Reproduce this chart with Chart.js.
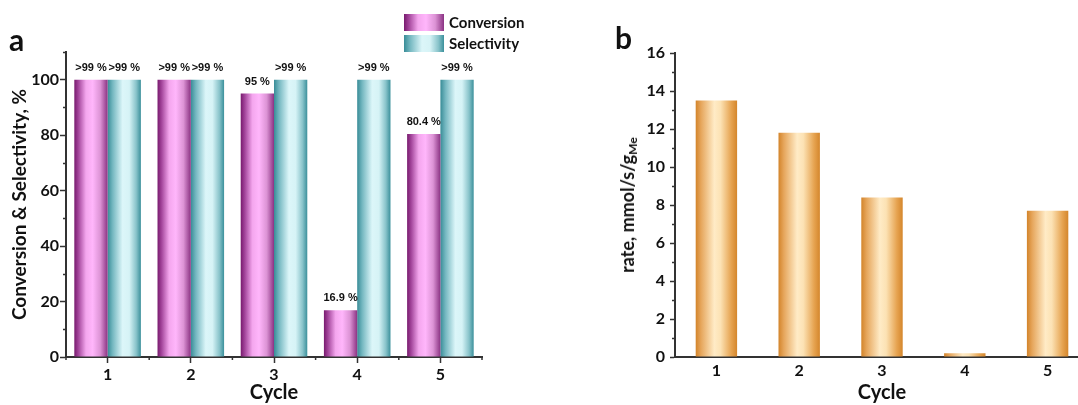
<!DOCTYPE html>
<html>
<head>
<meta charset="utf-8">
<script src="https://cdn.jsdelivr.net/npm/chart.js@4/dist/chart.umd.min.js"></script>
<style>
  html, body { margin: 0; padding: 0; background: #fff; width: 1078px; height: 405px; overflow: hidden; }
  #wrap { position: relative; width: 1078px; height: 405px; overflow: hidden; font-family: Lato, "Open Sans", sans-serif; color: #111; }
  canvas { position: absolute; top: 0; }
  #ca { left: 0; }
  #cb { left: 600px; }
  .tag { position: absolute; font-weight: bold; font-size: 30px; line-height: 1; }
  .leg { position: absolute; display: flex; align-items: center; font-weight: bold; font-size: 15px; }
  .sw { display: inline-block; width: 40px; margin-right: 5px; }
  #ytb { position: absolute; left: 628px; top: 205px; transform: translate(-50%, -50%) rotate(-90deg);
         white-space: nowrap; font-weight: bold; font-size: 18px; }
  #ytb sub { font-size: 12px; vertical-align: -3px; }
</style>
</head>
<body>
<div id="wrap">
  <canvas id="ca" width="540" height="405"></canvas>
  <canvas id="cb" width="500" height="405"></canvas>
  <div class="tag" style="left:9px;top:24px;">a</div>
  <div class="tag" style="left:615px;top:22px;">b</div>
  <div id="legend"></div>
  <div id="ytb">rate, mmol/s/g<sub>Me</sub></div>
</div>
<script>
// ---- data ----
const cycles = ['1', '2', '3', '4', '5'];
const conversion = [100, 100, 95, 16.9, 80.4];
const selectivity = [100, 100, 100, 100, 100];
const conversionLabels = ['>99 %', '>99 %', '95 %', '16.9 %', '80.4 %'];
const selectivityLabels = ['>99 %', '>99 %', '>99 %', '>99 %', '>99 %'];
const rate = [13.5, 11.8, 8.4, 0.2, 7.7];
const yTicksA = [0, 20, 40, 60, 80, 100];
const yMinorA = [10, 30, 50, 70, 90, 110];
const yTicksB = [0, 2, 4, 6, 8, 10, 12, 14, 16];
const yMinorB = [1, 3, 5, 7, 9, 11, 13, 15];

// ---- styling ----
const FONT = 'Lato, "Open Sans", sans-serif';
const AXIS = '#333333';
const TEXT = '#111111';
const convStops = [[0, '#781a6e'], [0.12, '#a2449a'], [0.35, '#f4a6ee'], [0.55, '#ffb6fb'], [0.78, '#dc93d5'], [1, '#8b3383']];
const selStops = [[0, '#388c97'], [0.15, '#74b7c0'], [0.45, '#dcf6f9'], [0.65, '#d6f3f6'], [0.86, '#88c3ca'], [1, '#3b909b']];
const rateStops = [[0, '#d3842a'], [0.13, '#e6a65c'], [0.45, '#ffebc6'], [0.6, '#fce2b4'], [0.86, '#e6a350'], [1, '#d4862c']];

function cssGradient(stops) {
  return 'linear-gradient(to right,' + stops.map(([o, c]) => c + ' ' + (o * 100) + '%').join(',') + ')';
}

// horizontal gradient spanning each bar
function barGradient(stops) {
  return (ctx) => {
    const el = ctx.element;
    if (ctx.type !== 'data' || !el || !Number.isFinite(el.x) || !Number.isFinite(el.width)) {
      return stops[2][1];
    }
    const l = el.x - el.width / 2, r = el.x + el.width / 2;
    const g = ctx.chart.ctx.createLinearGradient(l, 0, r, 0);
    stops.forEach(([o, c]) => g.addColorStop(o, c));
    return g;
  };
}

// short minor tick marks on the axes
const minorTicks = {
  id: 'minorTicks',
  afterDraw(chart, args, opts) {
    const c = chart.ctx;
    const ys = chart.scales.y, xs = chart.scales.x;
    c.save();
    c.strokeStyle = AXIS;
    c.lineWidth = 1.5;
    c.beginPath();
    (opts.y || []).forEach(v => {
      const py = Math.round(ys.getPixelForValue(v)) + 0.5;
      c.moveTo(ys.right - opts.len, py);
      c.lineTo(ys.right, py);
    });
    if (opts.xBounds) {
      for (let k = 0; k <= chart.data.labels.length; k++) {
        const px = xs.getPixelForValue(k - 0.5);
        c.moveTo(px, xs.top);
        c.lineTo(px, xs.top + opts.len);
      }
    }
    c.stroke();
    c.restore();
  }
};

// value labels above bars
const barLabels = {
  id: 'barLabels',
  afterDatasetsDraw(chart) {
    const c = chart.ctx;
    c.save();
    c.font = 'bold 11px "Liberation Sans", Arial, sans-serif';
    c.fillStyle = TEXT;
    c.textAlign = 'center';
    c.textBaseline = 'middle';
    chart.data.datasets.forEach((ds, di) => {
      if (!ds.valueLabels) return;
      chart.getDatasetMeta(di).data.forEach((el, i) => {
        c.fillText(ds.valueLabels[i], el.x, el.y - 12);
      });
    });
    c.restore();
  }
};

// ---- legend ----
const legendItems = [
  { name: 'Conversion', stops: convStops, top: 13, h: 17 },
  { name: 'Selectivity', stops: selStops, top: 34, h: 17 }
];
const legend = document.getElementById('legend');
legendItems.forEach(it => {
  const row = document.createElement('div');
  row.className = 'leg';
  row.style.left = '404px';
  row.style.top = it.top + 'px';
  const sw = document.createElement('span');
  sw.className = 'sw';
  sw.style.height = it.h + 'px';
  sw.style.background = cssGradient(it.stops);
  const tx = document.createElement('span');
  tx.textContent = it.name;
  row.appendChild(sw);
  row.appendChild(tx);
  legend.appendChild(row);
});

const tickFont = { family: FONT, size: 16, weight: 'bold' };
const titleFont = { family: FONT, size: 20, weight: 'bold' };

// ---- panel a ----
const chartA = new Chart(document.getElementById('ca'), {
  type: 'bar',
  data: {
    labels: cycles,
    datasets: [
      { label: 'Conversion', data: conversion, valueLabels: conversionLabels,
        backgroundColor: barGradient(convStops), borderWidth: 0,
        barPercentage: 1.0, categoryPercentage: 0.8 },
      { label: 'Selectivity', data: selectivity, valueLabels: selectivityLabels,
        backgroundColor: barGradient(selStops), borderWidth: 0,
        barPercentage: 1.0, categoryPercentage: 0.8 }
    ]
  },
  options: {
    responsive: false,
    animation: false,
    events: [],
    layout: { padding: { top: 52, right: 58, bottom: 0, left: 0 } },
    plugins: { legend: { display: false }, tooltip: { enabled: false },
               minorTicks: { y: yMinorA, len: 3, xBounds: true } },
    scales: {
      x: {
        offset: true,
        grid: { display: true, drawOnChartArea: false, drawTicks: true, tickLength: 6,
                tickWidth: 1.5, tickColor: AXIS, offset: false },
        border: { display: true, color: AXIS, width: 2 },
        ticks: { font: tickFont, color: TEXT, padding: 2 },
        title: { display: true, text: 'Cycle', font: titleFont, color: TEXT, padding: 0 },
        afterFit: (s) => { s.height = 48; }
      },
      y: {
        min: 0, max: 110,
        afterBuildTicks: (s) => { s.ticks = yTicksA.map(v => ({ value: v })); },
        grid: { display: true, drawOnChartArea: false, drawTicks: true, tickLength: 6,
                tickWidth: 1.5, tickColor: AXIS },
        border: { display: true, color: AXIS, width: 2 },
        ticks: { font: tickFont, color: TEXT, padding: 1 },
        title: { display: true, text: 'Conversion & Selectivity, %',
                 font: { family: FONT, size: 19, weight: 'bold' }, color: TEXT,
                 padding: { top: 8, bottom: 0 } },
        afterFit: (s) => { s.width = 66; }
      }
    }
  },
  plugins: [minorTicks, barLabels]
});
chartA.update();

// ---- panel b ----
const chartB = new Chart(document.getElementById('cb'), {
  type: 'bar',
  data: {
    labels: cycles,
    datasets: [
      { label: 'rate', data: rate, backgroundColor: barGradient(rateStops), borderWidth: 0,
        barPercentage: 0.5, categoryPercentage: 1.0 }
    ]
  },
  options: {
    responsive: false,
    animation: false,
    events: [],
    layout: { padding: { top: 53, right: 11, bottom: 0, left: 0 } },
    plugins: { legend: { display: false }, tooltip: { enabled: false },
               minorTicks: { y: yMinorB, len: 3, xBounds: false } },
    scales: {
      x: {
        offset: true,
        grid: { display: false, drawTicks: false },
        border: { display: true, color: AXIS, width: 2 },
        ticks: { font: tickFont, color: TEXT, padding: 4 },
        title: { display: true, text: 'Cycle', font: titleFont, color: TEXT, padding: 0 },
        afterFit: (s) => { s.height = 48; }
      },
      y: {
        min: 0, max: 16,
        afterBuildTicks: (s) => { s.ticks = yTicksB.map(v => ({ value: v })); },
        grid: { display: true, drawOnChartArea: false, drawTicks: true, tickLength: 5,
                tickWidth: 1.5, tickColor: AXIS },
        border: { display: true, color: AXIS, width: 2 },
        ticks: { font: tickFont, color: TEXT, padding: 5 },
        afterFit: (s) => { s.width = 75; }
      }
    }
  },
  plugins: [minorTicks]
});
chartB.update();
</script>
</body>
</html>
